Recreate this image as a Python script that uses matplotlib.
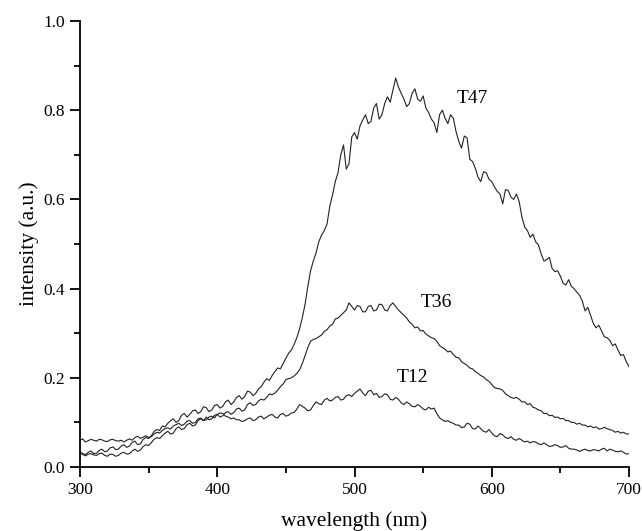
import matplotlib
matplotlib.use("Agg")
import matplotlib.pyplot as plt
import numpy as np
from matplotlib.ticker import MultipleLocator, FormatStrFormatter

plt.rcParams['font.family'] = ['Liberation Serif', 'DejaVu Serif']

wavelength = list(range(300, 701, 2))

t47 = [0.034, 0.030, 0.028, 0.033, 0.036, 0.030, 0.031, 0.037, 0.040, 0.034,
       0.036, 0.043, 0.045, 0.039, 0.040, 0.047, 0.050, 0.044, 0.047, 0.055,
       0.058, 0.050, 0.052, 0.062, 0.066, 0.064, 0.070, 0.080, 0.084, 0.082,
       0.092, 0.090, 0.098, 0.104, 0.108, 0.100, 0.104, 0.116, 0.120, 0.112,
       0.118, 0.126, 0.128, 0.120, 0.124, 0.135, 0.133, 0.124, 0.128, 0.138,
       0.140, 0.132, 0.136, 0.146, 0.150, 0.140, 0.146, 0.156, 0.160, 0.152,
       0.158, 0.170, 0.168, 0.160, 0.165, 0.175, 0.180, 0.190, 0.198, 0.194,
       0.205, 0.214, 0.222, 0.220, 0.232, 0.244, 0.255, 0.262, 0.275, 0.290,
       0.310, 0.335, 0.365, 0.405, 0.440, 0.462, 0.480, 0.505, 0.520, 0.530,
       0.545, 0.585, 0.610, 0.640, 0.660, 0.700, 0.722, 0.668, 0.680, 0.740,
       0.750, 0.735, 0.765, 0.778, 0.790, 0.770, 0.775, 0.805, 0.815, 0.780,
       0.790, 0.815, 0.830, 0.818, 0.845, 0.872, 0.852, 0.838, 0.825, 0.808,
       0.815, 0.838, 0.848, 0.825, 0.820, 0.832, 0.805, 0.795, 0.780, 0.772,
       0.750, 0.790, 0.800, 0.782, 0.770, 0.790, 0.782, 0.752, 0.730, 0.715,
       0.742, 0.738, 0.690, 0.685, 0.670, 0.650, 0.640, 0.662, 0.660, 0.645,
       0.640, 0.628, 0.618, 0.612, 0.590, 0.622, 0.620, 0.605, 0.600, 0.612,
       0.595, 0.560, 0.538, 0.530, 0.515, 0.522, 0.505, 0.498, 0.478, 0.462,
       0.465, 0.470, 0.445, 0.438, 0.440, 0.428, 0.412, 0.408, 0.420, 0.405,
       0.400, 0.392, 0.385, 0.372, 0.350, 0.358, 0.340, 0.322, 0.312, 0.318,
       0.305, 0.292, 0.290, 0.284, 0.272, 0.276, 0.262, 0.250, 0.252, 0.236,
       0.225]

t36 = [0.031, 0.028, 0.025, 0.029, 0.030, 0.027, 0.026, 0.030, 0.031, 0.026,
       0.024, 0.029, 0.028, 0.024, 0.026, 0.031, 0.033, 0.029, 0.030, 0.036,
       0.040, 0.035, 0.038, 0.046, 0.050, 0.048, 0.055, 0.062, 0.066, 0.064,
       0.070, 0.076, 0.080, 0.074, 0.076, 0.086, 0.090, 0.084, 0.086, 0.095,
       0.098, 0.092, 0.094, 0.104, 0.108, 0.104, 0.112, 0.106, 0.108, 0.116,
       0.118, 0.112, 0.115, 0.122, 0.124, 0.118, 0.122, 0.130, 0.132, 0.125,
       0.128, 0.140, 0.144, 0.138, 0.140, 0.148, 0.152, 0.150, 0.156, 0.164,
       0.162, 0.166, 0.172, 0.180, 0.186, 0.196, 0.198, 0.200, 0.204, 0.210,
       0.218, 0.232, 0.250, 0.268, 0.282, 0.286, 0.288, 0.292, 0.296, 0.304,
       0.308, 0.316, 0.320, 0.332, 0.334, 0.340, 0.346, 0.352, 0.368, 0.360,
       0.352, 0.362, 0.360, 0.348, 0.348, 0.360, 0.362, 0.350, 0.352, 0.365,
       0.364, 0.352, 0.350, 0.362, 0.368, 0.360, 0.352, 0.346, 0.340, 0.334,
       0.325, 0.320, 0.312, 0.314, 0.305, 0.306, 0.298, 0.294, 0.290, 0.288,
       0.282, 0.272, 0.268, 0.264, 0.258, 0.260, 0.252, 0.246, 0.245, 0.236,
       0.232, 0.228, 0.222, 0.220, 0.214, 0.210, 0.205, 0.202, 0.196, 0.192,
       0.185, 0.178, 0.176, 0.175, 0.172, 0.164, 0.160, 0.156, 0.154, 0.156,
       0.152, 0.146, 0.146, 0.140, 0.142, 0.134, 0.132, 0.128, 0.126, 0.120,
       0.120, 0.115, 0.116, 0.111, 0.112, 0.108, 0.109, 0.104, 0.104, 0.100,
       0.100, 0.096, 0.098, 0.094, 0.094, 0.090, 0.092, 0.088, 0.090, 0.085,
       0.086, 0.089, 0.086, 0.084, 0.082, 0.078, 0.080, 0.076, 0.078, 0.074,
       0.074]

t12 = [0.060, 0.063, 0.056, 0.059, 0.062, 0.060, 0.058, 0.062, 0.061, 0.058,
       0.057, 0.061, 0.062, 0.059, 0.058, 0.060, 0.056, 0.060, 0.063, 0.060,
       0.066, 0.069, 0.064, 0.067, 0.070, 0.066, 0.068, 0.074, 0.078, 0.076,
       0.082, 0.086, 0.088, 0.085, 0.092, 0.095, 0.098, 0.093, 0.096, 0.103,
       0.104, 0.098, 0.100, 0.108, 0.110, 0.104, 0.106, 0.112, 0.114, 0.110,
       0.118, 0.121, 0.120, 0.114, 0.112, 0.108, 0.110, 0.106, 0.106, 0.102,
       0.104, 0.108, 0.110, 0.104, 0.106, 0.112, 0.114, 0.108, 0.112, 0.116,
       0.118, 0.112, 0.110, 0.118, 0.120, 0.114, 0.116, 0.121, 0.122, 0.130,
       0.140, 0.136, 0.132, 0.126, 0.128, 0.138, 0.146, 0.142, 0.140, 0.150,
       0.154, 0.148, 0.150, 0.156, 0.158, 0.150, 0.152, 0.160, 0.162, 0.158,
       0.165, 0.170, 0.175, 0.166, 0.160, 0.170, 0.172, 0.162, 0.165, 0.156,
       0.158, 0.164, 0.162, 0.152, 0.150, 0.156, 0.152, 0.144, 0.140, 0.146,
       0.142, 0.136, 0.135, 0.140, 0.136, 0.130, 0.128, 0.134, 0.130, 0.132,
       0.120, 0.110, 0.106, 0.102, 0.104, 0.100, 0.098, 0.094, 0.094, 0.088,
       0.090, 0.098, 0.096, 0.086, 0.085, 0.092, 0.086, 0.080, 0.078, 0.084,
       0.076, 0.070, 0.068, 0.075, 0.072, 0.066, 0.064, 0.068, 0.062, 0.060,
       0.064, 0.060, 0.056, 0.058, 0.054, 0.057, 0.056, 0.052, 0.050, 0.054,
       0.050, 0.046, 0.047, 0.050, 0.048, 0.044, 0.045, 0.048, 0.042, 0.040,
       0.040, 0.038, 0.035, 0.038, 0.040, 0.037, 0.036, 0.039, 0.038, 0.036,
       0.040, 0.042, 0.036, 0.040, 0.038, 0.035, 0.034, 0.036, 0.033, 0.029,
       0.030]

series_labels = ["T47", "T36", "T12"]
label_pos = [(586, 0.827), (560, 0.368), (542, 0.200)]

fig = plt.figure(figsize=(6.42, 5.31), dpi=100)
ax = fig.add_axes([80/642, 64/531, 549/642, 446/531])

for y in (t47, t36, t12):
    ax.plot(wavelength, y, color='#222222', lw=0.8)

for lab, (lx, ly) in zip(series_labels, label_pos):
    ax.text(lx, ly, lab, fontsize=14, ha='center', va='center')

ax.set_xlim(300, 700)
ax.set_ylim(0.0, 1.0)
ax.xaxis.set_major_locator(MultipleLocator(100))
ax.xaxis.set_minor_locator(MultipleLocator(50))
ax.yaxis.set_major_locator(MultipleLocator(0.2))
ax.yaxis.set_minor_locator(MultipleLocator(0.1))
ax.yaxis.set_major_formatter(FormatStrFormatter('%.1f'))
ax.spines['top'].set_visible(False)
ax.spines['right'].set_visible(False)
for s in ('left', 'bottom'):
    ax.spines[s].set_linewidth(1.3)
ax.tick_params(which='major', direction='out', length=7, width=1.3, labelsize=12.5, pad=4)
ax.tick_params(which='minor', direction='out', length=4, width=1.3)
ax.set_xlabel("wavelength (nm)", fontsize=15.5, labelpad=9)
ax.set_ylabel("intensity (a.u.)", fontsize=15.5, labelpad=3)

fig.savefig("out.png", dpi=100)
